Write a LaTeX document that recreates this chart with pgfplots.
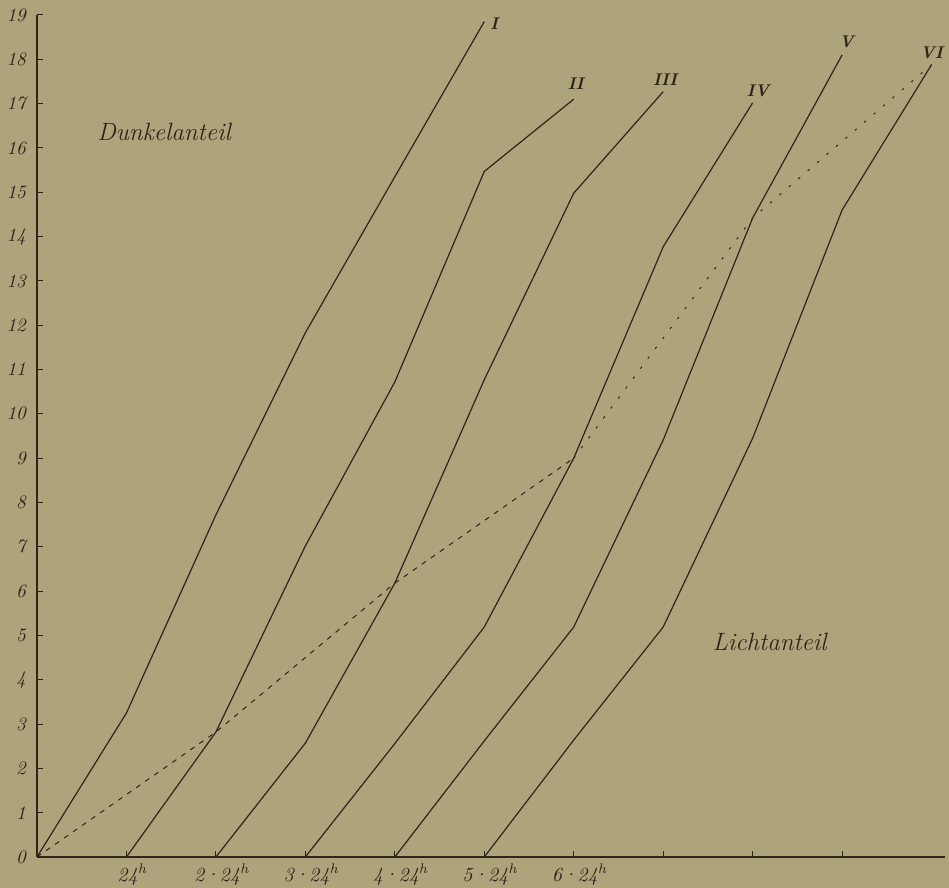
\documentclass[border=0pt]{standalone}
\usepackage{pgfplots}
\pgfplotsset{compat=1.18}
\definecolor{paper}{RGB}{174,164,124}
\definecolor{ink}{RGB}{45,38,24}
\begin{document}
\begin{tikzpicture}
\fill[paper] (-18.5pt,-15.5pt) rectangle (456pt,428.5pt);
\begin{axis}[
  scale only axis, width=454pt, height=421pt,
  xmin=0, xmax=10.15, ymin=0, ymax=19,
  axis x line*=bottom, axis y line*=left,
  axis line style={ink, line width=0.6pt},
  tick align=inside, major tick length=3pt,
  tick style={ink, line width=0.5pt},
  xtick={1,...,9},
  xticklabels={{\textit{24}\textsuperscript{\textit{h}}},
               {\textit{2·24}\textsuperscript{\textit{h}}},
               {\textit{3·24}\textsuperscript{\textit{h}}},
               {\textit{4·24}\textsuperscript{\textit{h}}},
               {\textit{5·24}\textsuperscript{\textit{h}}},
               {\textit{6·24}\textsuperscript{\textit{h}}},{},{},{}},
  xticklabel style={font=\fontsize{10}{11}\selectfont, text=ink, xshift=3pt},
  ytick={0,...,19},
  /pgf/number format/assume math mode=true,
  yticklabel style={font=\itshape\fontsize{9.5}{10}\selectfont, text=ink, xshift=-2pt},
  clip=false,
]
\addplot[ink, line width=0.6pt] coordinates {(0,0) (1,3.25) (2,7.72) (3,11.83) (4,15.35) (5,18.85)};
\addplot[ink, line width=0.6pt] coordinates {(1,0) (2,2.82) (3,7.02) (4,10.72) (5,15.47) (6,17.1)};
\addplot[ink, line width=0.6pt] coordinates {(2,0) (3,2.57) (4,6.18) (5,10.77) (6,14.98) (7,17.27)};
\addplot[ink, line width=0.6pt] coordinates {(3,0) (4,2.56) (5,5.19) (6,9.0) (7,13.77) (8,17.02)};
\addplot[ink, line width=0.6pt] coordinates {(4,0) (5,2.62) (6,5.19) (7,9.41) (8,14.42) (9,18.1)};
\addplot[ink, line width=0.6pt] coordinates {(5,0) (6,2.64) (7,5.19) (8,9.45) (9,14.6) (10,17.88)};
\addplot[ink, line width=0.5pt, dash pattern=on 2.5pt off 3pt] coordinates {(0,0) (2,2.82) (4,6.18) (6,9.0)};
\addplot[ink, line width=0.5pt, dash pattern=on 1.2pt off 5pt] coordinates {(6,9.0) (8,14.42) (10,17.88)};
\node[text=ink, font=\itshape\fontsize{12.5}{14}\selectfont] at (axis cs:1.42,16.35) {Dunkelanteil};
\node[text=ink, font=\itshape\fontsize{12.5}{14}\selectfont] at (axis cs:8.19,4.85) {Lichtanteil};
\node[text=ink, font=\itshape\bfseries\fontsize{8.5}{9}\selectfont] at (axis cs:5.11,18.8) {I};
\node[text=ink, font=\itshape\bfseries\fontsize{8.5}{9}\selectfont] at (axis cs:6.02,17.45) {II};
\node[text=ink, font=\itshape\bfseries\fontsize{8.5}{9}\selectfont] at (axis cs:7.02,17.55) {III};
\node[text=ink, font=\itshape\bfseries\fontsize{8.5}{9}\selectfont] at (axis cs:8.06,17.3) {IV};
\node[text=ink, font=\itshape\bfseries\fontsize{8.5}{9}\selectfont] at (axis cs:9.05,18.4) {V};
\node[text=ink, font=\itshape\bfseries\fontsize{8.5}{9}\selectfont] at (axis cs:10.0,18.15) {VI};
\end{axis}
\pgfresetboundingbox
\useasboundingbox (-18.5pt,-15.5pt) rectangle (456pt,428.5pt);
\end{tikzpicture}
\end{document}
